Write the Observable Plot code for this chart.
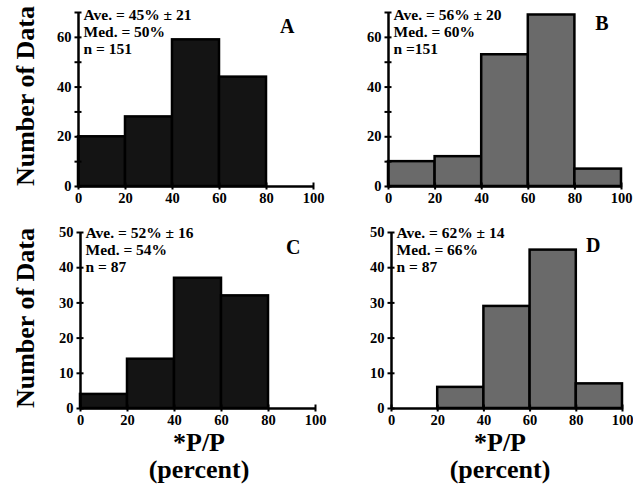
<!DOCTYPE html>
<html>
<head>
<meta charset="utf-8">
<script src="https://cdn.jsdelivr.net/npm/d3@7"></script>
<script src="https://cdn.jsdelivr.net/npm/@observablehq/plot@0.6"></script>
<style>
  html, body { margin: 0; padding: 0; background: #fff; }
  #root { position: relative; width: 633px; height: 484px; overflow: hidden; font-family: "Liberation Serif", serif; font-weight: bold; color: #000; }
  #root svg, #root svg text { font-family: "Liberation Serif", serif !important; font-weight: bold; }
  .panel { position: absolute; }
  .ylab { position: absolute; font-size: 26px; white-space: nowrap; transform: translate(-50%, -50%) rotate(-90deg); }
  .xlab { position: absolute; font-size: 26px; white-space: nowrap; transform: translate(-50%, -50%); text-align: center; line-height: 1; }
</style>
</head>
<body>
<div id="root"></div>
<script>
// ---- data ----
const binStarts = [0, 20, 40, 60, 80];
const binWidth = 20;
const countsA = [20, 28, 59, 44, 0];
const countsB = [10, 12, 53, 69, 7];
const countsC = [4, 14, 37, 32, 0];
const countsD = [0, 6, 29, 45, 7];
const statsA = ["Ave. = 45% ± 21", "Med. = 50%", "n = 151"];
const statsB = ["Ave. = 56% ± 20", "Med. = 60%", "n =151"];
const statsC = ["Ave. = 52% ± 16", "Med. = 54%", "n = 87"];
const statsD = ["Ave. = 62% ± 14", "Med. = 66%", "n = 87"];
const panelLetters = ["A", "B", "C", "D"];
const xTicks = [0, 20, 40, 60, 80, 100];
const yTicksTop = [0, 10, 20, 30, 40, 50, 60, 70];
const yLabelsTop = [0, 20, 40, 60];
const yTicksBottom = [0, 10, 20, 30, 40, 50];
const yLabelsBottom = [0, 10, 20, 30, 40, 50];
const yLabelText = "Number of Data";
const xLabelText = ["*P/P", "(percent)"];

const FONT = "Liberation Serif";
const root = document.getElementById("root");

function panel(cfg) {
  const data = binStarts.map((s, i) => ({x1: s, x2: s + binWidth, count: cfg.counts[i]}));
  const p = Plot.plot({
    width: cfg.width,
    height: cfg.height,
    marginLeft: cfg.ml, marginRight: cfg.mr, marginTop: cfg.mt, marginBottom: cfg.mb,
    x: {domain: [0, 100], axis: null},
    y: {domain: [0, cfg.yMax], axis: null},
    style: {fontFamily: FONT, fontWeight: "bold", background: "transparent", overflow: "visible"},
    marks: [
      Plot.rectY(data, {x1: "x1", x2: "x2", y: "count", fill: cfg.fill, stroke: "#000", strokeWidth: 2.5}),
      Plot.ruleX([0], {stroke: "#000", strokeWidth: 2.5}),
      Plot.ruleY([0], {stroke: "#000", strokeWidth: 2.5}),
      Plot.axisY({ticks: cfg.yTicks, tickSize: 7, dx: 3.5, tickFormat: () => "", strokeWidth: 2, label: null}),
      Plot.axisY({ticks: cfg.yLabels, tickSize: 0, tickPadding: 7, fontSize: 14.5, fontWeight: "bold", fontFamily: FONT, fill: "#000", label: null}),
      Plot.axisX({ticks: xTicks, tickSize: 7, dy: -3.5, tickFormat: () => "", strokeWidth: 2, label: null}),
      Plot.axisX({ticks: xTicks, tickSize: 0, tickPadding: 6, fontSize: 14.5, fontWeight: "bold", fontFamily: FONT, fill: "#000", label: null}),
      Plot.text([cfg.stats.join("\n")], {frameAnchor: "top-left", dx: 5, dy: cfg.statsDy, lineHeight: 1.1, fontSize: 15.5, fontWeight: "bold", fontFamily: FONT, fill: "#000", textAnchor: "start"}),
      Plot.text([cfg.letter], {frameAnchor: "top-right", dx: cfg.letterDx, dy: cfg.letterDy, fontSize: 20, fontWeight: "bold", fontFamily: FONT, fill: "#000"})
    ]
  });
  p.classList.add("panel");
  p.style.left = cfg.left + "px";
  p.style.top = cfg.top + "px";
  root.appendChild(p);
}

panel({counts: countsA, fill: "#141414", yMax: 70, yTicks: yTicksTop, yLabels: yLabelsTop, stats: statsA, letter: panelLetters[0],
  left: 48, top: 0, width: 280, height: 210, ml: 30, mr: 15, mt: 12, mb: 24, statsDy: -5, letterDx: -19, letterDy: 6});
panel({counts: countsB, fill: "#6a6a6a", yMax: 70, yTicks: yTicksTop, yLabels: yLabelsTop, stats: statsB, letter: panelLetters[1],
  left: 358, top: 0, width: 275, height: 210, ml: 30, mr: 12, mt: 12, mb: 24, statsDy: -5, letterDx: -13, letterDy: 3});
panel({counts: countsC, fill: "#141414", yMax: 50, yTicks: yTicksBottom, yLabels: yLabelsBottom, stats: statsC, letter: panelLetters[2],
  left: 50, top: 220, width: 280, height: 212, ml: 30, mr: 15, mt: 12, mb: 24, statsDy: -7, letterDx: -15, letterDy: 7});
panel({counts: countsD, fill: "#6a6a6a", yMax: 50, yTicks: yTicksBottom, yLabels: yLabelsBottom, stats: statsD, letter: panelLetters[3],
  left: 361, top: 220, width: 272, height: 212, ml: 30, mr: 11, mt: 12, mb: 24, statsDy: -7, letterDx: -22, letterDy: 5});

function addDiv(cls, text, x, y) {
  const d = document.createElement("div");
  d.className = cls;
  d.textContent = text;
  d.style.left = x + "px";
  d.style.top = y + "px";
  root.appendChild(d);
}
addDiv("ylab", yLabelText, 26, 96);
addDiv("ylab", yLabelText, 26, 318);
addDiv("xlab", xLabelText[0], 199, 443);
addDiv("xlab", xLabelText[1], 199, 470);
addDiv("xlab", xLabelText[0], 500, 443);
addDiv("xlab", xLabelText[1], 500, 470);
</script>
</body>
</html>
